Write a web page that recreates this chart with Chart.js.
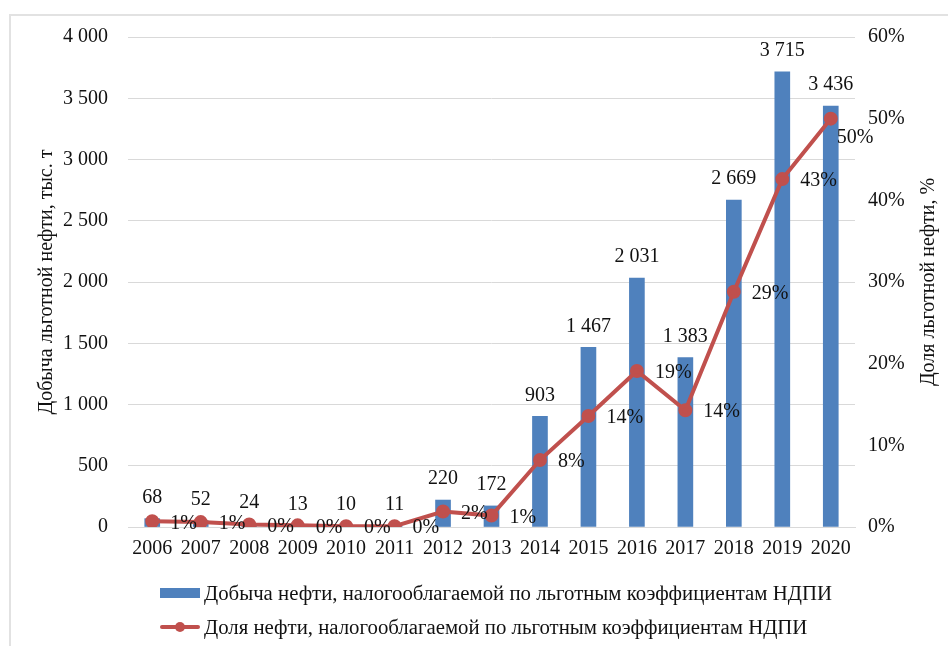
<!DOCTYPE html>
<html>
<head>
<meta charset="utf-8">
<script src="https://cdn.jsdelivr.net/npm/chart.js@4"></script>
<style>
  html, body { margin: 0; padding: 0; background: #fff; width: 948px; height: 646px; overflow: hidden; }
  #frame { position: absolute; left: 9px; top: 14px; width: 1000px; height: 700px; border: 2px solid #e2e2e2; box-sizing: border-box; }
  #wrap { position: absolute; left: 0; top: 0; width: 948px; height: 646px; }
  .legend-row { position: absolute; left: 160px; height: 24px; display: flex; align-items: center;
                font-family: "Liberation Serif", "Times New Roman", serif; font-size: 20.8px; color: #111; white-space: nowrap; }
  .swatch { width: 40px; height: 24px; position: relative; margin-right: 4px; }
  .swatch.bar::after { content: ""; position: absolute; left: 0; top: 7px; width: 40px; height: 10px; background: #4F81BD; }
  .swatch.line::before { content: ""; position: absolute; left: 0; top: 10px; width: 40px; height: 4px; background: #C0504D; border-radius: 2px; }
  .swatch.line::after { content: ""; position: absolute; left: 15px; top: 7px; width: 10px; height: 10px; border-radius: 50%; background: #C0504D; }
</style>
</head>
<body>
<div id="frame"></div>
<div id="wrap"><canvas id="chart" width="948" height="646"></canvas></div>
<div class="legend-row" style="top:581px"><span class="swatch bar"></span>Добыча нефти, налогооблагаемой по льготным коэффициентам НДПИ</div>
<div class="legend-row" style="top:615px"><span class="swatch line"></span>Доля нефти, налогооблагаемой по льготным коэффициентам НДПИ</div>
<script>
// Years on the category axis
const years = ['2006','2007','2008','2009','2010','2011','2012','2013','2014','2015','2016','2017','2018','2019','2020'];
// Preferential-rate oil output, thousand tonnes
const output = [68, 52, 24, 13, 10, 11, 220, 172, 903, 1467, 2031, 1383, 2669, 3715, 3436];
// Share of preferential-rate oil, percent
const share = [0.7, 0.6, 0.3, 0.2, 0.1, 0.1, 1.9, 1.4, 8.2, 13.6, 19.1, 14.3, 28.8, 42.6, 50.0];

const barLabel = 'Добыча нефти, налогооблагаемой по льготным коэффициентам НДПИ';
const lineLabel = 'Доля нефти, налогооблагаемой по льготным коэффициентам НДПИ';
const leftTitle = 'Добыча льготной нефти, тыс. т';
const rightTitle = 'Доля льготной нефти, %';

const FONT = '"Liberation Serif", "Times New Roman", serif';
const TEXT = '#111';
const GRID = '#d9d9d9';

function spaced(n) {
  return String(n).replace(/\B(?=(\d{3})+(?!\d))/g, ' ');
}

// Value labels above bars and to the right of line points
const valueLabels = {
  id: 'valueLabels',
  afterDatasetsDraw(chart) {
    const ctx = chart.ctx;
    ctx.save();
    ctx.font = '20px ' + FONT;
    ctx.fillStyle = TEXT;
    ctx.textBaseline = 'middle';
    ctx.textAlign = 'center';
    chart.getDatasetMeta(1).data.forEach((bar, i) => {
      ctx.fillText(spaced(output[i]), bar.x, bar.y - 21);
    });
    ctx.textAlign = 'left';
    const pts = chart.getDatasetMeta(0).data;
    pts.forEach((pt, i) => {
      const last = i === pts.length - 1;
      const dx = last ? 6 : 18;
      const dy = last ? 19 : 2;
      ctx.fillText(Math.round(share[i]) + '%', pt.x + dx, pt.y + dy);
    });
    ctx.restore();
  }
};

// Axis titles, both reading bottom-to-top
const axisTitles = {
  id: 'axisTitles',
  afterDraw(chart) {
    const ctx = chart.ctx;
    const cy = (chart.chartArea.top + chart.chartArea.bottom) / 2;
    ctx.save();
    ctx.font = '20px ' + FONT;
    ctx.fillStyle = TEXT;
    ctx.textAlign = 'center';
    ctx.textBaseline = 'middle';
    [[47, leftTitle], [929, rightTitle]].forEach(([x, t]) => {
      ctx.save();
      ctx.translate(x, cy);
      ctx.rotate(-Math.PI / 2);
      ctx.fillText(t, 0, 0);
      ctx.restore();
    });
    ctx.restore();
  }
};

new Chart(document.getElementById('chart'), {
  data: {
    labels: years,
    datasets: [
      {
        type: 'line',
        label: lineLabel,
        data: share,
        yAxisID: 'y1',
        borderColor: '#C0504D',
        backgroundColor: '#C0504D',
        borderWidth: 4,
        pointRadius: 5,
        pointHoverRadius: 5,
        pointBackgroundColor: '#C0504D',
        pointBorderColor: '#C0504D',
        tension: 0,
        order: 0
      },
      {
        type: 'bar',
        label: barLabel,
        data: output,
        yAxisID: 'y',
        backgroundColor: '#4F81BD',
        barThickness: 15,
        order: 1
      }
    ]
  },
  options: {
    responsive: false,
    animation: false,
    devicePixelRatio: 1,
    layout: { padding: { top: 37, left: 0, right: 0, bottom: 0 } },
    plugins: { legend: { display: false }, tooltip: { enabled: false } },
    scales: {
      x: {
        grid: { display: false, drawTicks: false },
        border: { color: GRID, width: 1 },
        ticks: { font: { size: 20, family: FONT }, color: TEXT, padding: 10, maxRotation: 0, autoSkip: false },
        afterFit(s) { s.height = 119; }
      },
      y: {
        position: 'left',
        min: 0, max: 4000,
        ticks: { stepSize: 500, font: { size: 20, family: FONT }, color: TEXT, padding: 20,
                 callback: v => spaced(v) },
        grid: { color: GRID, lineWidth: 1, drawTicks: false },
        border: { display: false },
        afterFit(s) { s.width = 128; }
      },
      y1: {
        position: 'right',
        min: 0, max: 60,
        ticks: { stepSize: 10, font: { size: 20, family: FONT }, color: TEXT, padding: 13,
                 callback: v => v + '%' },
        grid: { drawOnChartArea: false, drawTicks: false },
        border: { display: false },
        afterFit(s) { s.width = 93; }
      }
    }
  },
  plugins: [valueLabels, axisTitles]
});
</script>
</body>
</html>
